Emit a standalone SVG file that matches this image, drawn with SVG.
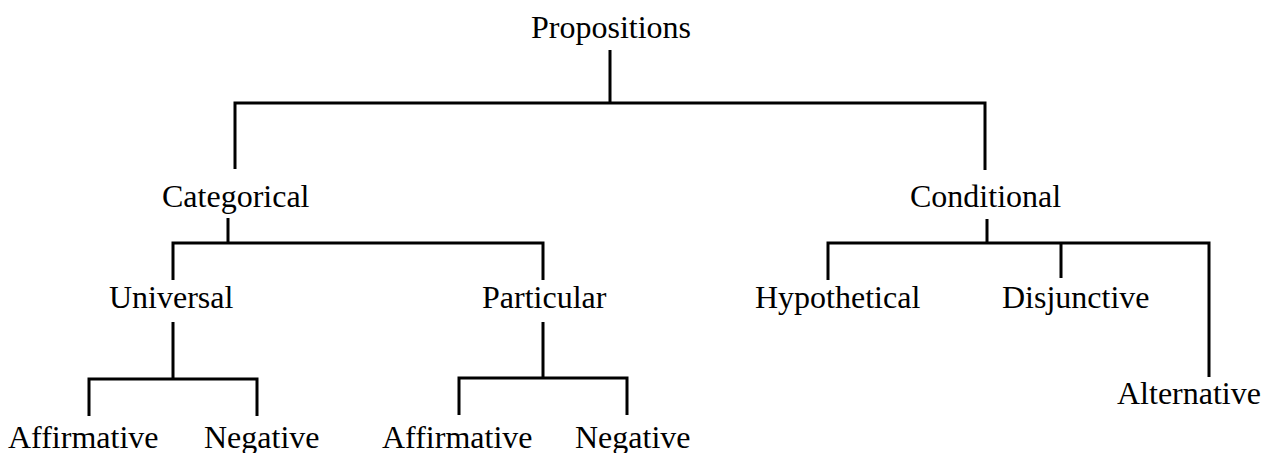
<svg xmlns="http://www.w3.org/2000/svg" width="1263" height="453" viewBox="0 0 1263 453">
<style>
text { font-family: "Liberation Serif", "Times New Roman", serif; font-size: 32px; fill: #000; }
.c { fill: none; stroke: #000; stroke-width: 3; }
</style>
<rect width="1263" height="453" fill="#fff"/>
<g id="connectors">
<path class="c" d="M610 50V103M235 169V103H985V170"/>
<path class="c" d="M228 218V243M173 280V243H543V280"/>
<path class="c" d="M173 322V379M89 416V379H257V416"/>
<path class="c" d="M543 322V378M459 415V378H627V415"/>
<path class="c" d="M987 219V243M828 280V243H1209V377M1061 243V278"/>
</g>
<g id="propositions"><text x="531" y="38">Propositions</text></g>
<g id="categorical"><text x="162" y="207">Categorical</text></g>
<g id="conditional"><text x="910" y="207">Conditional</text></g>
<g id="universal"><text x="109" y="308">Universal</text></g>
<g id="particular"><text x="482" y="308">Particular</text></g>
<g id="hypothetical"><text x="755" y="308">Hypothetical</text></g>
<g id="disjunctive"><text x="1002" y="308">Disjunctive</text></g>
<g id="alternative"><text x="1117" y="404">Alternative</text></g>
<g id="affirmative1"><text x="8" y="448">Affirmative</text></g>
<g id="negative1"><text x="204" y="448">Negative</text></g>
<g id="affirmative2"><text x="382" y="448">Affirmative</text></g>
<g id="negative2"><text x="575" y="448">Negative</text></g>
</svg>
